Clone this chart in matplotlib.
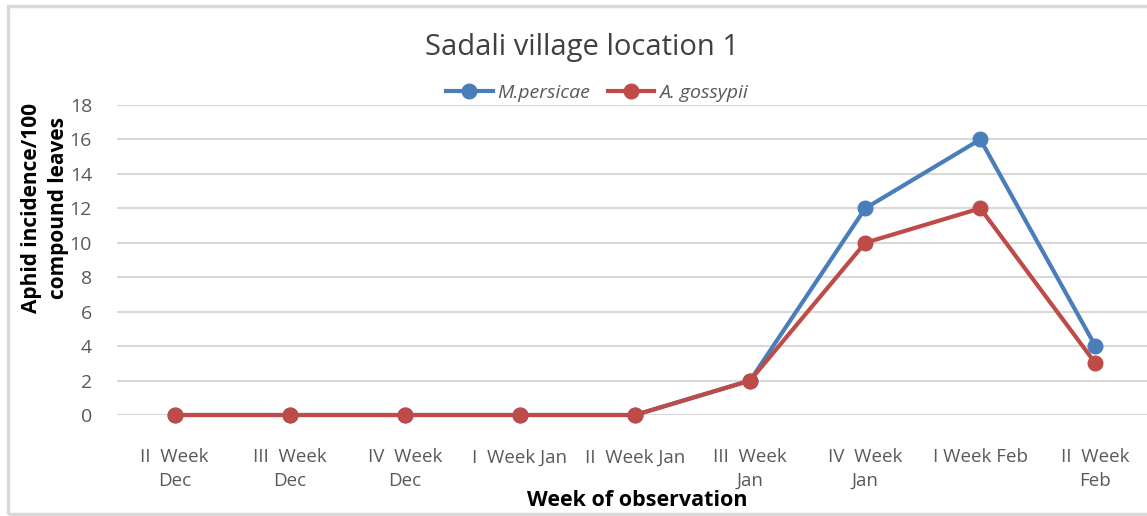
import matplotlib
matplotlib.use('Agg')
import matplotlib.pyplot as plt
from matplotlib.patches import Rectangle
import numpy as np

# data
weeks = ['II  Week\nDec', 'III  Week\nDec', 'IV  Week\nDec', 'I  Week Jan\n',
         'II  Week Jan\n', 'III  Week\nJan', 'IV  Week\nJan', 'I Week Feb\n',
         'II  Week\nFeb']
m_persicae = [0, 0, 0, 0, 0, 2, 12, 16, 4]
a_gossypii = [0, 0, 0, 0, 0, 2, 10, 12, 3]

plt.rcParams['font.family'] = ['Open Sans', 'DejaVu Sans']

W, H = 1147, 516
fig = plt.figure(figsize=(W / 100, H / 100), dpi=100)

# outer chart frame
fig.patches.append(Rectangle((8 / W, 1 - 514 / H), 1.2, (514 - 6) / H,
                             transform=fig.transFigure, fill=False,
                             edgecolor='#d9d9d9', linewidth=2.5))

ax = fig.add_axes([117 / W, 1 - 415 / H, 1036 / W, 310 / H])
x = np.arange(len(weeks))
ax.plot(x, m_persicae, color='#4a7ebb', lw=3, marker='o', ms=10.5,
        label='M.persicae', clip_on=False, zorder=3)
ax.plot(x, a_gossypii, color='#be4b48', lw=3, marker='o', ms=10.5,
        label='A. gossypii', clip_on=False, zorder=4)

ax.set_xlim(-0.5, 8.5)
ax.set_ylim(0, 18)
ax.set_yticks(range(0, 19, 2))
ax.yaxis.grid(True, color='#d9d9d9', lw=1.5)
ax.set_axisbelow(True)
for s in ax.spines.values():
    s.set_visible(False)
ax.set_xticks(x)
ax.set_xticklabels(weeks, color='#595959', fontsize=13.5, linespacing=1.4)
ax.tick_params(axis='x', length=0, pad=24)
ax.tick_params(axis='y', length=0, pad=18, labelcolor='#595959', labelsize=14)

fig.text(582 / W, 1 - 48 / H, 'Sadali village location 1', ha='center',
         va='center', fontsize=21, color='#404040')
fig.text(45 / W, 1 - 208 / H, 'Aphid incidence/100\ncompound leaves',
         rotation=90, ha='center', va='center', fontsize=15, weight='bold',
         multialignment='center', linespacing=1.35)
fig.text(637 / W, 1 - 500 / H, 'Week of observation', ha='center',
         va='center', fontsize=15.5, weight='bold')

leg = fig.legend(loc='center', bbox_to_anchor=(597 / W, 1 - 93 / H), ncol=2,
                 frameon=False, handlelength=2.4, handletextpad=0.25,
                 columnspacing=0.9, prop={'style': 'italic', 'size': 14})
for t in leg.get_texts():
    t.set_color('#595959')

fig.savefig('out.png', dpi=100)
